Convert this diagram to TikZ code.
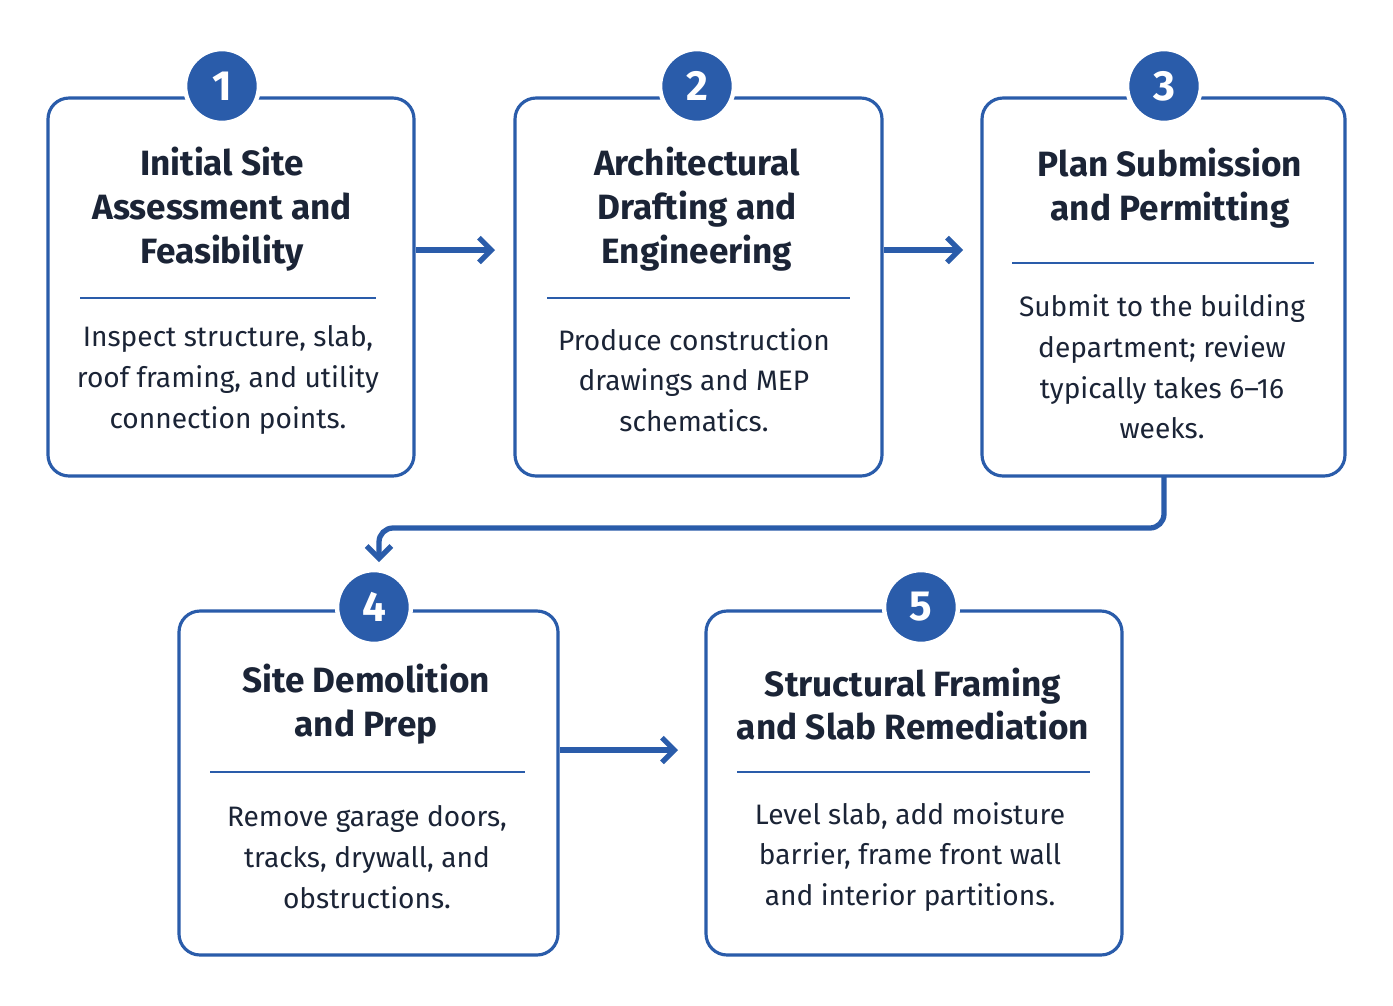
\documentclass[tikz,border=0pt]{standalone}
\usepackage{fontspec}
\setmainfont{Fira Sans}
\usetikzlibrary{arrows.meta}
\definecolor{stepblue}{HTML}{2A5CAA}
\definecolor{inkdark}{HTML}{1B2436}
\tikzset{
  step box/.style={draw=stepblue,line width=1.8pt,rounded corners=12pt},
  step num/.style={circle,fill=stepblue,draw=white,line width=2.5pt,minimum size=42pt,
    text=white,font=\fontsize{24}{24}\selectfont\bfseries},
  step title/.style={align=center,text=inkdark,font=\fontsize{20}{25}\selectfont\bfseries},
  step text/.style={align=center,text=inkdark,font=\fontsize{16}{23.2}\selectfont},
  sep/.style={stepblue,line width=1.2pt},
  flow/.style={stepblue,line width=3pt,-{Straight Barb[length=7pt,width=14pt]}},
}
\begin{document}
\begin{tikzpicture}[x=0.02cm,y=-0.02cm]
  \useasboundingbox[fill=white] (0,0) rectangle (1393,1005);

  % boxes
  \draw[step box] (48,98) rectangle (414,476);
  \draw[step box] (515,98) rectangle (882,476);
  \draw[step box] (982,98) rectangle (1345,476);
  \draw[step box] (179,611) rectangle (558,955);
  \draw[step box] (706,611) rectangle (1122,955);

  % separators
  \draw[sep] (80,298) -- (376,298);
  \draw[sep] (547,298) -- (850,298);
  \draw[sep] (1012,263) -- (1314,263);
  \draw[sep] (210,772) -- (525,772);
  \draw[sep] (737,772) -- (1090,772);

  % numbers
  \foreach \n/\x/\y in {1/222/86, 2/697/86, 3/1164/86, 4/374/607, 5/921/607}
    \node[step num] (num\n) at (\x,\y) {\n};

  % titles
  \node[step title] (title1) at (222,209) {Initial Site\\Assessment and\\Feasibility};
  \node[step title] (title2) at (697,209) {Architectural\\Drafting and\\Engineering};
  \node[step title] (title3) at (1170,188) {Plan Submission\\and Permitting};
  \node[step title] (title4) at (366,704) {Site Demolition\\and Prep};
  \node[step title] (title5) at (913,704) {Structural Framing\\and Slab Remediation};

  % descriptions
  \node[step text] (text1) at (228,380) {Inspect structure, slab,\\roof framing, and utility\\connection points.};
  \node[step text] (text2) at (694,380) {Produce construction\\drawings and MEP\\schematics.};
  \node[step text] (text3) at (1162,367) {Submit to the building\\department; review\\typically takes 6–16\\weeks.};
  \node[step text] (text4) at (367,857) {Remove garage doors,\\tracks, drywall, and\\obstructions.};
  \node[step text] (text5) at (910,857) {Level slab, add moisture\\barrier, frame front wall\\and interior partitions.};

  % connectors
  \coordinate (b3) at (1164,477);
  \coordinate (t4) at (379,562);
  \draw[flow] (416,250) -- (495,250);
  \draw[flow] (884,250) -- (963,250);
  \draw[flow] (560,750) -- (678,750);
  \draw[flow,rounded corners=8pt] (b3) |- (700,528) -| (t4);
\end{tikzpicture}
\end{document}
